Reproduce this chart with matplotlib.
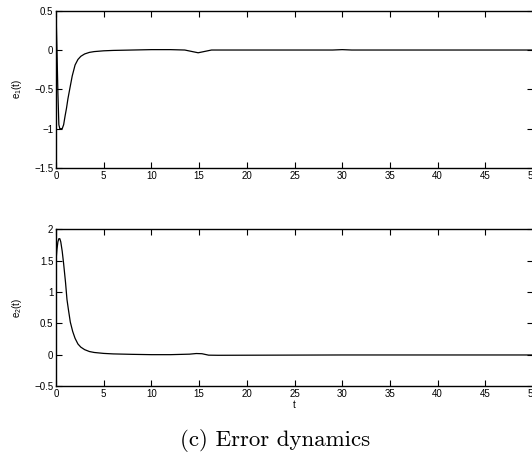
import matplotlib
matplotlib.use('Agg')
import matplotlib.pyplot as plt

# error e1(t)
t1 = [0, 0.1, 0.2, 0.3, 0.4, 0.65, 0.8, 0.95, 1.1, 1.25, 1.45, 1.7, 2.0, 2.3, 2.6, 3.0,
      3.5, 4.0, 5.0, 6, 8, 10, 12, 13.5, 14.3, 14.9, 15.5, 16.3, 18, 25, 29, 30, 31, 40, 50]
e1 = [0.5, 0.0, -0.55, -0.95, -1.0, -1.0, -0.95, -0.84, -0.74, -0.62, -0.49, -0.33, -0.19,
      -0.12, -0.08, -0.05, -0.03, -0.02, -0.01, -0.005, 0.0, 0.005, 0.005, 0.0, -0.02,
      -0.035, -0.02, 0.0, 0.0, 0.0, 0.0, 0.005, 0.0, 0.0, 0.0]

# error e2(t)
t2 = [0, 0.1, 0.2, 0.3, 0.4, 0.5, 0.65, 0.8, 1.0, 1.15, 1.3, 1.5, 1.75, 2.0, 2.3, 2.6, 3.0,
      3.5, 4.0, 5, 6, 8, 10, 12, 14, 14.7, 15.3, 16, 17, 30, 50]
e2 = [1.5, 1.68, 1.8, 1.85, 1.85, 1.8, 1.65, 1.45, 1.15, 0.88, 0.72, 0.52, 0.37, 0.26, 0.17,
      0.12, 0.08, 0.05, 0.035, 0.02, 0.012, 0.005, 0.0, 0.0, 0.008, 0.018, 0.015, -0.008,
      -0.01, -0.005, -0.005]

xticks = [0, 5, 10, 15, 20, 25, 30, 35, 40, 45, 50]
yticks1 = [-1.5, -1, -0.5, 0, 0.5]
ytick1_labels = ['\u22121.5', '\u22121', '\u22120.5', '0', '0.5']
yticks2 = [-0.5, 0, 0.5, 1, 1.5, 2]
ytick2_labels = ['\u22120.5', '0', '0.5', '1', '1.5', '2']

plt.rcParams['font.family'] = ['Liberation Sans', 'DejaVu Sans']
plt.rcParams['mathtext.default'] = 'regular'

fig = plt.figure(figsize=(5.32, 4.57), dpi=100)
ax1 = fig.add_axes([56/532, 1-168/457, 477/532, 157.3/457])
ax2 = fig.add_axes([56/532, 1-386/457, 477/532, 156.7/457])


def style(ax):
    ax.set_xlim(0, 50)
    ax.set_xticks(xticks)
    ax.tick_params(direction='in', top=True, right=True, length=4, width=0.8,
                   labelsize=7, pad=2)
    for s in ax.spines.values():
        s.set_linewidth(1.0)


ax1.plot(t1, e1, color='black', lw=0.9)
style(ax1)
ax1.set_ylim(-1.5, 0.5)
ax1.set_yticks(yticks1, ytick1_labels)
ax1.set_ylabel('e$_1$(t)', fontsize=7, labelpad=7)

ax2.plot(t2, e2, color='black', lw=0.9)
style(ax2)
ax2.set_ylim(-0.5, 2)
ax2.set_yticks(yticks2, ytick2_labels)
ax2.set_ylabel('e$_2$(t)', fontsize=7, labelpad=7)
ax2.set_xlabel('t', fontsize=7, labelpad=1)

fig.text(275/532, 1-440/457, '(c) Error dynamics', fontsize=16.5, family='cmr10',
         ha='center', va='center')

fig.savefig('out.png', dpi=100)
